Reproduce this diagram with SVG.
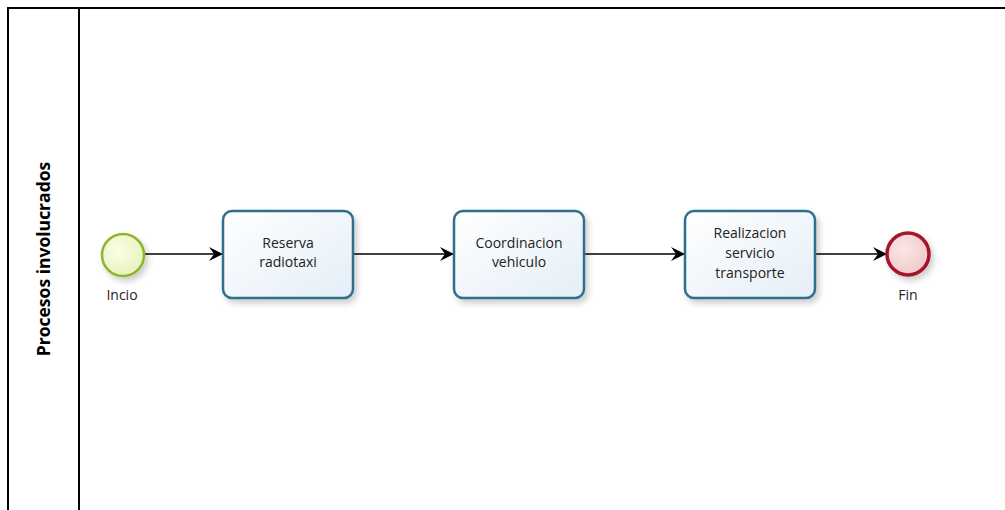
<svg xmlns="http://www.w3.org/2000/svg" width="1005" height="510" viewBox="0 0 1005 510">
  <style>
    .pool { fill: none; stroke: #000; stroke-width: 2; }
    .task { fill: url(#taskFill); stroke: #2f6f8c; stroke-width: 2.5; }
    .label { font-family: "Open Sans", "Noto Sans", "Liberation Sans", sans-serif; font-size: 14px; fill: #222; text-anchor: middle; }
    .title { font-family: "Open Sans", "Noto Sans", "Liberation Sans", sans-serif; font-size: 17.5px; font-weight: bold; fill: #000; text-anchor: middle; }
    .flow { stroke: #000; stroke-width: 1.5; fill: none; marker-end: url(#arrow); }
  </style>
  <defs>
    <linearGradient id="taskFill" x1="0" y1="0" x2="1" y2="1">
      <stop offset="0" stop-color="#ffffff"/>
      <stop offset="1" stop-color="#e4eef7"/>
    </linearGradient>
    <radialGradient id="startFill" cx="0.4" cy="0.4" r="0.7">
      <stop offset="0" stop-color="#fbfde8"/>
      <stop offset="1" stop-color="#e6f2b8"/>
    </radialGradient>
    <radialGradient id="endFill" cx="0.4" cy="0.4" r="0.7">
      <stop offset="0" stop-color="#fbe8e8"/>
      <stop offset="1" stop-color="#f0c4c4"/>
    </radialGradient>
    <filter id="shadow" x="-20%" y="-20%" width="150%" height="150%">
      <feGaussianBlur in="SourceAlpha" stdDeviation="3"/>
      <feOffset dx="3" dy="4"/>
      <feComponentTransfer><feFuncA type="linear" slope="0.2"/></feComponentTransfer>
      <feMerge><feMergeNode/><feMergeNode in="SourceGraphic"/></feMerge>
    </filter>
    <marker id="arrow" viewBox="0 0 14 14" refX="13" refY="7" markerWidth="14" markerHeight="14" markerUnits="userSpaceOnUse" orient="auto">
      <path d="M0,0 L14,7 L0,14 L5,7 Z" fill="#000"/>
    </marker>
  </defs>

  <rect width="1005" height="510" fill="#fff"/>

  <!-- pool and lane header -->
  <g id="pool">
    <path class="pool" d="M8,510 L8,8 L1005,8"/>
    <line class="pool" x1="79" y1="8" x2="79" y2="510"/>
    <text class="title" transform="translate(50,259) rotate(-90)">Procesos involucrados</text>
  </g>

  <!-- sequence flows -->
  <g id="connectors">
    <line class="flow" x1="145" y1="254" x2="222" y2="254"/>
    <line class="flow" x1="354" y1="254" x2="453" y2="254"/>
    <line class="flow" x1="585" y1="254" x2="684" y2="254"/>
    <line class="flow" x1="816" y1="254" x2="886" y2="254"/>
  </g>

  <g id="start">
    <circle cx="123" cy="255" r="21" fill="url(#startFill)" stroke="#8db52e" stroke-width="2.5" filter="url(#shadow)"/>
    <text class="label" x="122" y="300">Incio</text>
  </g>

  <g id="task1">
    <rect class="task" x="223" y="211" width="130" height="87" rx="9" filter="url(#shadow)"/>
    <text class="label" x="288" y="248">Reserva</text>
    <text class="label" x="288" y="267">radiotaxi</text>
  </g>

  <g id="task2">
    <rect class="task" x="454" y="211" width="130" height="87" rx="9" filter="url(#shadow)"/>
    <text class="label" x="519" y="248">Coordinacion</text>
    <text class="label" x="519" y="267">vehiculo</text>
  </g>

  <g id="task3">
    <rect class="task" x="685" y="211" width="130" height="87" rx="9" filter="url(#shadow)"/>
    <text class="label" x="750" y="238">Realizacion</text>
    <text class="label" x="750" y="258">servicio</text>
    <text class="label" x="750" y="278">transporte</text>
  </g>

  <g id="end">
    <circle cx="908" cy="254" r="21" fill="url(#endFill)" stroke="#a3192a" stroke-width="3.5" filter="url(#shadow)"/>
    <text class="label" x="908" y="300">Fin</text>
  </g>
</svg>
